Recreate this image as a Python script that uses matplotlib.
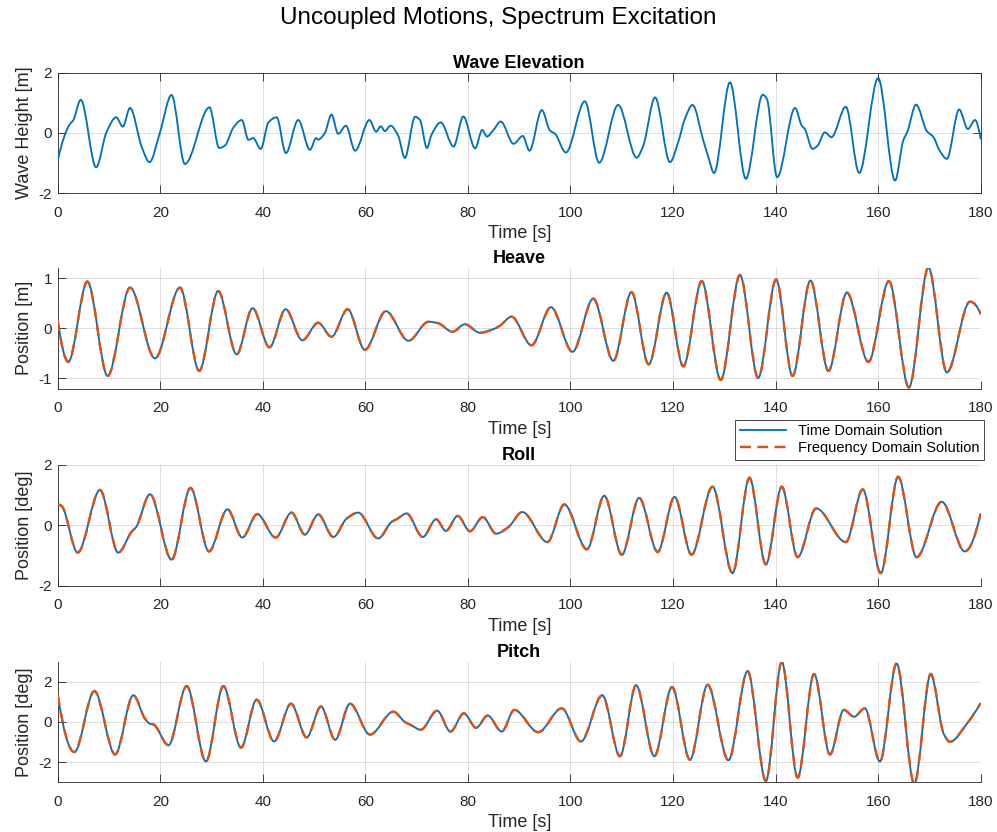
import numpy as np
import matplotlib
matplotlib.use("Agg")
import matplotlib.pyplot as plt
from matplotlib.path import Path
from matplotlib.patches import PathPatch
from matplotlib.lines import Line2D

plt.rcParams['font.family'] = ['Liberation Sans', 'DejaVu Sans']
plt.rcParams['axes.unicode_minus'] = False

# knots (time [s], value)
wave_t = [0, 2.4, 3.0, 4.5, 7.5, 9.5, 11.4, 12.7, 14.1, 16.4, 17.9, 19.95, 22.2, 24.8, 29.6,
          31.5, 32.6, 34.3, 35.9, 37.2, 38.1, 39.6, 41.1, 42.7, 44.5, 46.9, 49.2, 50.4, 50.8, 52.1,
          53.4, 54.7, 56.2, 58.0, 60.8, 62.1, 63.0, 63.8, 64.9, 66.4, 67.7, 69.7, 70.65, 72.0, 72.9,
          74.7, 77.2, 79.1, 81.4, 82.8, 83.7, 84.9, 86.4, 88.9, 90.7, 92.0, 94.4, 96.0, 97.0, 99.1,
          102.8, 105.6, 109.3, 112.9, 114.2, 116.5, 119.4, 121.0, 122.3, 123.8, 125.9, 126.9, 128.0,
          131.1, 134.2, 137.5, 138.3, 140.3, 143.8, 145.1, 145.7, 147.2, 148.2, 149.6, 150.9, 153.7,
          156.3, 160.0, 163.3, 164.9, 165.7, 167.4, 169.5, 170.8, 171.9, 173.4, 175.8, 177.5, 178.9, 180.0]
wave_h = [-0.92, 0.30, 0.41, 1.10, -1.14, 0.02, 0.52, 0.21, 0.83, -0.47, -0.97, 0.02, 1.26, -1.03, 0.85,
          -0.50, -0.42, 0.19, 0.43, -0.23, -0.17, -0.53, 0.35, 0.52, -0.67, 0.43, -0.56, -0.17, -0.22, 0.00,
          0.61, -0.03, 0.24, -0.59, 0.43, 0.04, 0.22, 0.06, 0.24, -0.09, -0.83, 0.54, 0.43, -0.50, -0.06,
          0.35, -0.45, 0.55, -0.51, 0.10, -0.12, 0.08, 0.38, -0.36, -0.10, -0.59, 0.76, 0.08, -0.03, -0.65,
          1.05, -0.99, 0.93, -0.82, -0.42, 1.18, -0.97, -0.31, 0.46, 0.93, -0.25, -0.81, -1.33,
          1.68, -1.52, 1.27, 1.13, -1.47, 0.83, 0.24, 0.13, -0.53, -0.42, 0.02, -0.14, 0.87,
          -1.33, 1.82, -1.58, -0.25, 0.04, 0.94, 0.06, -0.14, -0.56, -0.86, 0.78, 0.13, 0.43, -0.21]

heave_t = [0, 2.07, 5.78, 9.75, 14.1, 18.97, 23.85, 27.6, 31.3, 34.9, 38.0, 41.3, 44.45, 47.7, 50.8,
           53.4, 56.55, 59.9, 64.0, 68.4, 72.3, 74.2, 77.0, 79.4, 82.35, 84.9, 86.25, 88.5, 92.4, 96.2,
           100.4, 104.45, 108.35, 111.9, 115.25, 118.75, 122.0, 125.6, 129.3, 133.05, 136.6, 140.1,
           143.3, 146.8, 150.3, 153.9, 158.1, 162.1, 166.0, 169.8, 173.4, 177.9, 180.0]
heave_z = [0.16, -0.67, 0.93, -0.95, 0.81, -0.60, 0.81, -0.85, 0.74, -0.52, 0.40, -0.38, 0.38, -0.24, 0.11,
           -0.17, 0.38, -0.43, 0.34, -0.25, 0.13, 0.10, -0.07, 0.08, -0.09, -0.02, 0.05, 0.23, -0.34, 0.42,
           -0.47, 0.59, -0.65, 0.72, -0.72, 0.71, -0.76, 0.94, -1.03, 1.06, -0.99, 0.97,
           -0.95, 0.95, -0.85, 0.71, -0.67, 0.94, -1.18, 1.21, -0.88, 0.53, 0.28]

roll_t = [0, 0.8, 3.9, 8.25, 11.8, 14.4, 15.3, 18.0, 22.2, 25.9, 29.5, 33.1, 36.0, 38.9, 42.5,
          45.6, 48.2, 50.8, 53.75, 56.35, 58.6, 62.5, 65.1, 66.1, 68.05, 71.2, 73.8, 75.7, 78.0, 80.4,
          82.9, 85.5, 87.9, 90.6, 95.5, 98.8, 103.2, 106.6, 110.0, 113.4, 117.0, 120.3, 123.6, 127.7,
          131.6, 134.9, 138.1, 141.2, 144.3, 147.9, 153.7, 157.0, 160.5, 163.9, 167.5, 172.4, 176.9, 180.0]
roll_phi = [0.70, 0.63, -0.91, 1.17, -0.91, -0.22, -0.06, 1.03, -1.14, 1.24, -0.87, 0.53, -0.41, 0.37, -0.41,
            0.42, -0.31, 0.36, -0.39, 0.22, 0.42, -0.44, 0.11, 0.20, 0.39, -0.39, 0.20, -0.19, 0.31, -0.20,
            0.27, -0.28, -0.06, 0.44, -0.56, 0.69, -0.80, 0.98, -0.98, 0.91, -0.89, 0.94, -0.98, 1.28,
            -1.59, 1.58, -1.30, 1.28, -1.06, 0.56, -0.56, 1.19, -1.59, 1.61, -1.06, 0.78, -0.87, 0.39]

pitch_t = [0, 3.25, 7.15, 11.2, 14.75, 17.0, 18.0, 18.65, 21.6, 25.15, 28.9, 32.3, 35.75, 38.8, 42.2,
           45.5, 48.55, 51.35, 54.1, 57.0, 60.9, 65.45, 67.7, 69.0, 70.8, 74.0, 76.6, 79.2, 81.6, 83.85,
           86.6, 89.05, 93.7, 98.3, 102.05, 106.2, 109.65, 112.8, 116.35, 119.8, 123.3, 126.75, 130.8,
           134.55, 138.1, 141.2, 144.3, 147.5, 150.6, 153.3, 155.3, 157.4, 160.35, 163.6, 167.05,
           170.25, 172.8, 174.0, 177.3, 180.0]
pitch_theta = [1.37, -1.50, 1.54, -1.62, 1.33, 0.17, -0.09, -0.12, -1.16, 1.79, -1.97, 1.79, -1.28, 1.11, -0.97,
               0.91, -0.77, 0.77, -0.89, 0.91, -0.63, 0.51, 0.00, -0.17, -0.39, 0.56, -0.48, 0.43, -0.29, 0.32,
               -0.48, 0.60, -0.51, 0.68, -0.97, 1.33, -1.71, 1.83, -1.71, 1.74, -1.88, 1.85, -1.91,
               2.53, -2.94, 2.99, -2.77, 2.39, -1.62, 0.60, 0.26, 0.68, -1.97, 2.91, -3.08,
               2.39, -0.60, -0.99, -0.09, 0.94]

panels = [
    ("Wave Elevation", "Wave Height [m]", wave_t, wave_h, (-2, 2), [-2, 0, 2], False),
    ("Heave", "Position [m]", heave_t, heave_z, (-1.2, 1.2), [-1, 0, 1], True),
    ("Roll", "Position [deg]", roll_t, roll_phi, (-2, 2), [-2, 0, 2], True),
    ("Pitch", "Position [deg]", pitch_t, pitch_theta, (-3, 3), [-2, 0, 2], True),
]
legend_labels = ["Time Domain Solution", "Frequency Domain Solution"]

BLUE = "#0072BD"
ORANGE = "#D95319"
AX = "#262626"


def smooth_path(t, y):
    # shape-preserving cubic through the knots, drawn as bezier segments
    t = np.asarray(t, float)
    y = np.asarray(y, float)
    h = np.diff(t)
    d = np.diff(y) / h
    m = np.zeros_like(y)
    for i in range(1, len(y) - 1):
        if d[i - 1] * d[i] > 0:
            w1 = 2 * h[i] + h[i - 1]
            w2 = h[i] + 2 * h[i - 1]
            m[i] = (w1 + w2) / (w1 / d[i - 1] + w2 / d[i])
    for k, (h0, h1, d0, d1) in ((0, (h[0], h[1], d[0], d[1])), (-1, (h[-1], h[-2], d[-1], d[-2]))):
        e = ((2 * h0 + h1) * d0 - h0 * d1) / (h0 + h1)
        if e * d0 <= 0:
            e = 0.0
        elif d0 * d1 < 0 and abs(e) > abs(3 * d0):
            e = 3 * d0
        m[k] = e
    verts = [(t[0], y[0])]
    codes = [Path.MOVETO]
    for i in range(len(h)):
        verts += [(t[i] + h[i] / 3, y[i] + m[i] * h[i] / 3),
                  (t[i + 1] - h[i] / 3, y[i + 1] - m[i + 1] * h[i] / 3),
                  (t[i + 1], y[i + 1])]
        codes += [Path.CURVE4] * 3
    return Path(verts, codes)


fig = plt.figure(figsize=(9.97, 8.32), dpi=100)
left, width = 57.7 / 997, 923 / 997
tops = [72.7, 268, 465, 661.7]
axes = []
for (title, ylab, t, y, ylim, yticks, both), top in zip(panels, tops):
    ax = fig.add_axes([left, 1 - (top + 120.5) / 832, width, 120.5 / 832])
    axes.append(ax)
    ax.add_patch(PathPatch(smooth_path(t, y), fill=False, edgecolor=BLUE, lw=1.35,
                           capstyle='butt', joinstyle='round', zorder=3))
    if both:
        ax.add_patch(PathPatch(smooth_path(t, y), fill=False, edgecolor=ORANGE, lw=1.75,
                               linestyle=(0, (4.5, 2.6)), capstyle='butt', zorder=4))
    ax.set_xlim(0, 180)
    ax.set_ylim(*ylim)
    ax.set_xticks(np.arange(0, 181, 20))
    ax.set_yticks(yticks)
    ax.grid(True, color=AX, alpha=0.15, lw=0.7)
    ax.set_axisbelow(True)
    ax.tick_params(direction='in', length=6, width=0.6, colors=AX, labelsize=11,
                   top=not both, right=not both)
    ax.tick_params(axis='x', pad=9)
    ax.tick_params(axis='y', pad=4)
    for s in ax.spines.values():
        s.set_color(AX)
        s.set_linewidth(0.6)
    if both:
        ax.spines['top'].set_visible(False)
        ax.spines['right'].set_visible(False)
    ax.set_title(title, fontsize=13, fontweight='bold', pad=3.5, color='black')
    ax.set_xlabel("Time [s]", fontsize=13, color=AX, labelpad=4)
    ax.set_ylabel(ylab, fontsize=13, color=AX)
    ax.yaxis.set_label_coords(-0.027, 0.5)

handles = [Line2D([], [], color=BLUE, lw=1.35),
           Line2D([], [], color=ORANGE, lw=1.75, linestyle=(0, (4.5, 2.6)))]
leg = axes[2].legend(handles, legend_labels, loc='upper right', fontsize=10.5,
                     bbox_to_anchor=(984 / 997, 1 - 420 / 832), bbox_transform=fig.transFigure,
                     fancybox=False, framealpha=1, edgecolor=AX, handlelength=3.2,
                     borderpad=0.3, labelspacing=0.2, borderaxespad=0)
leg.get_frame().set_linewidth(0.6)

fig.text(0.5, 1 - 18 / 832, "Uncoupled Motions, Spectrum Excitation", ha='center', va='center',
         fontsize=17.5, color='black')

fig.savefig("out.png", dpi=100)
